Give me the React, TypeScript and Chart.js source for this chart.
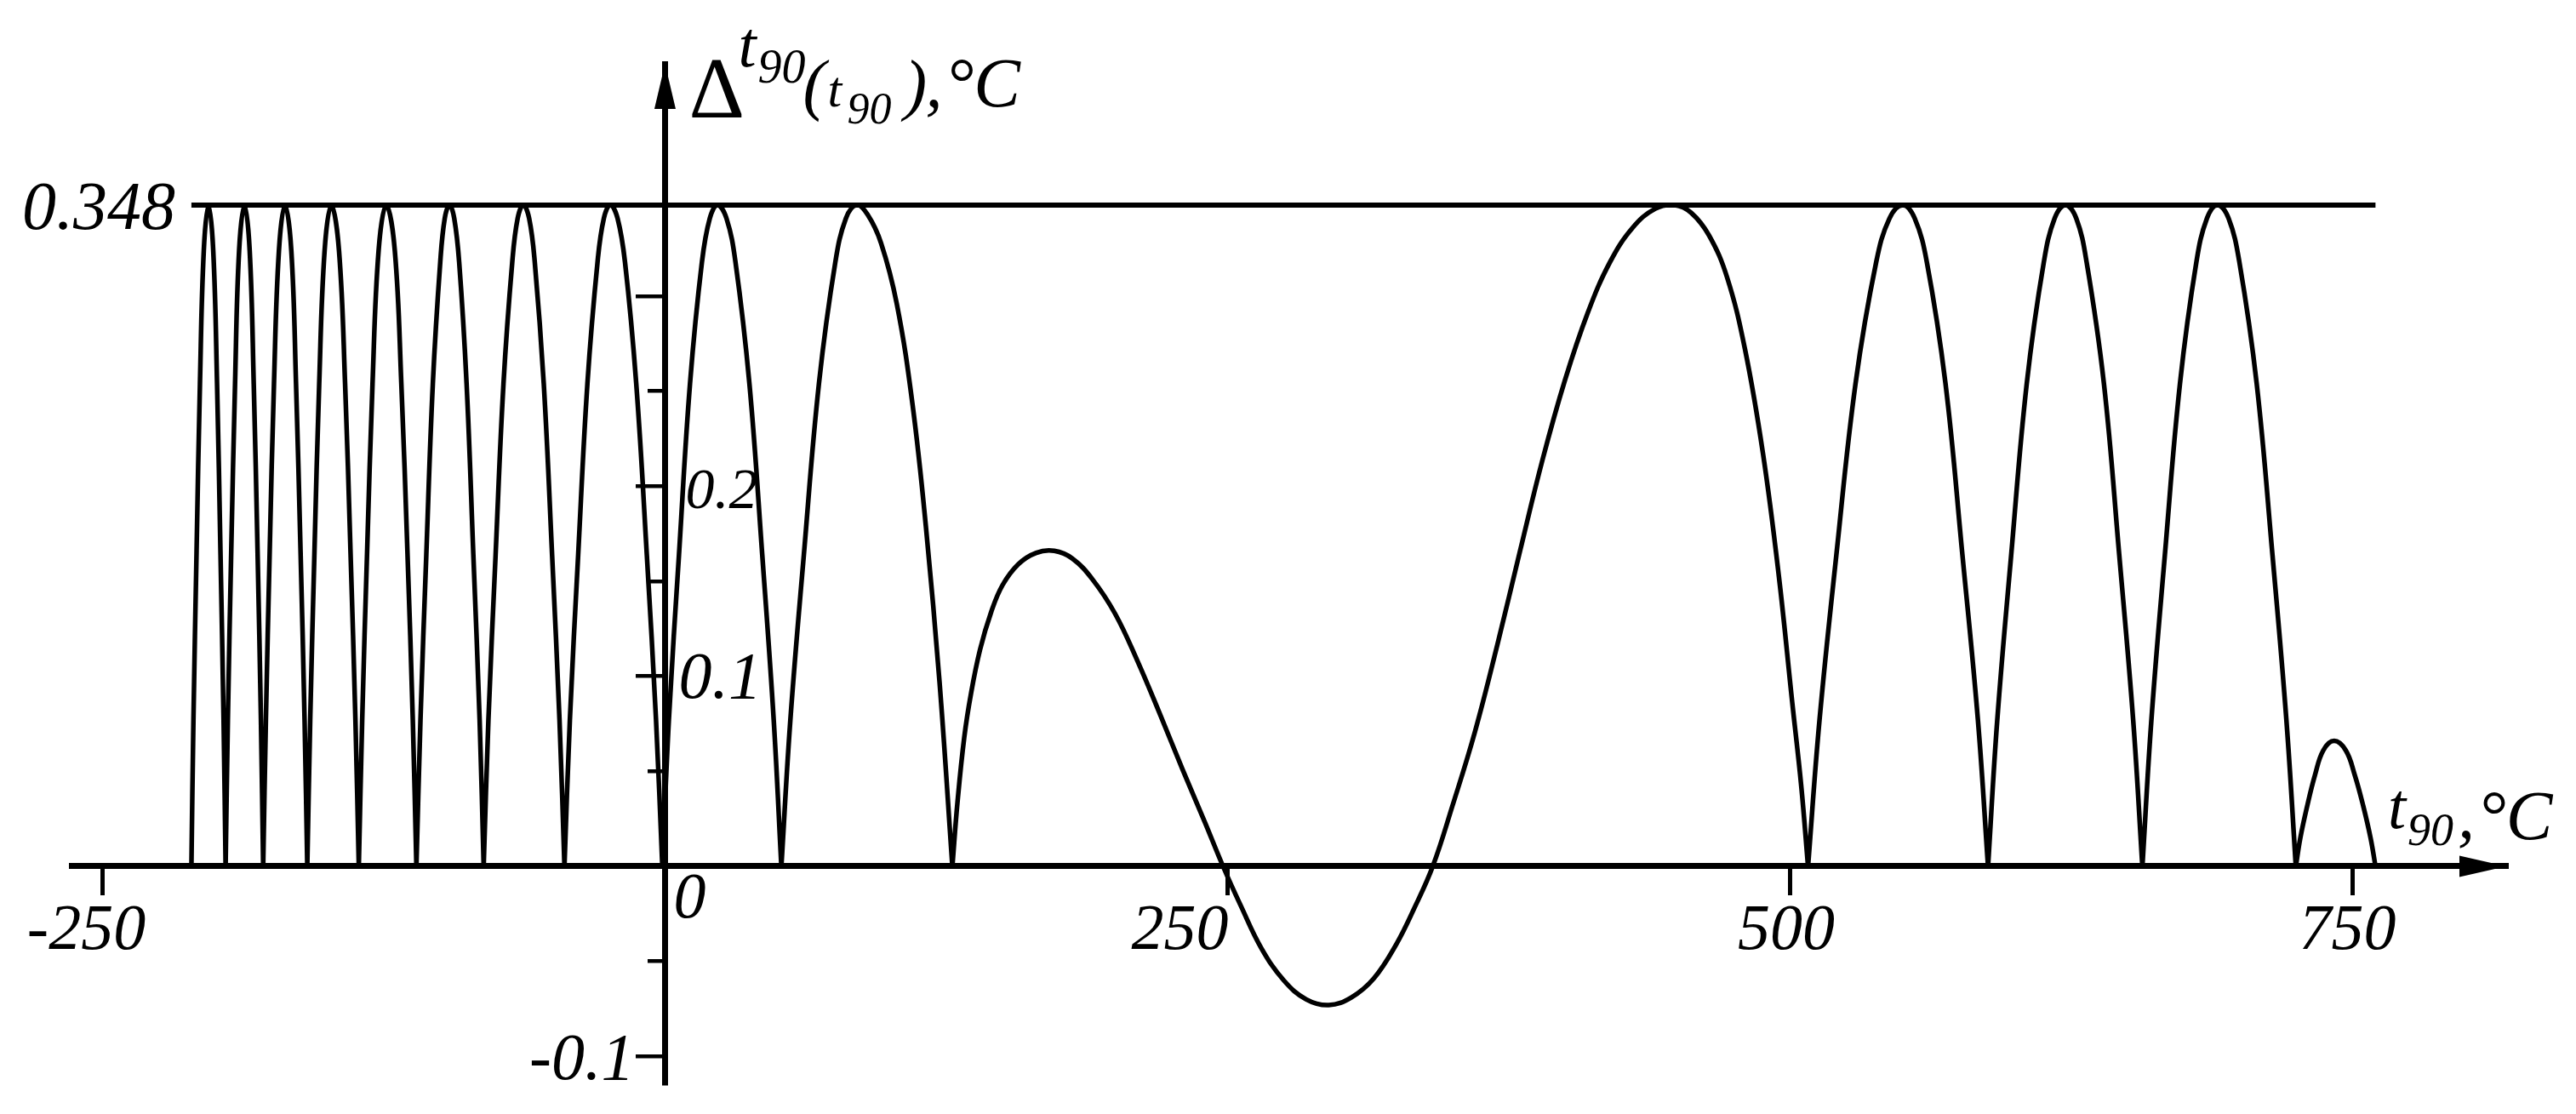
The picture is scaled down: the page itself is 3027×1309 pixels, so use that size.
import { useEffect, useRef } from 'react';
import { Chart, registerables } from 'chart.js';

Chart.register(...registerables);

// ---- data ----
// Temperatures t90 (°C) of the points of each arch of the deviation curve
const archT90: number[][] = [
  [-210.5, -209.6, -208.2, -206.7, -205.0, -202.9, -200.8, -199.1, -197.6, -196.2, -195.3],
  [-195.3, -194.3, -192.8, -191.1, -189.3, -186.9, -184.6, -182.8, -181.1, -179.6, -178.6],
  [-178.6, -177.4, -175.7, -173.8, -171.6, -168.9, -166.1, -164.0, -162.0, -160.2, -159.0],
  [-159.0, -157.7, -155.8, -153.7, -151.3, -148.3, -144.9, -142.2, -139.8, -137.6, -136.1],
  [-136.1, -134.6, -132.4, -130.0, -127.3, -123.9, -120.1, -117.2, -114.5, -112.1, -110.5],
  [-110.5, -108.7, -106.1, -103.2, -99.9, -97.9, -95.8, -93.7, -91.5, -88.2, -85.2, -82.4, -80.6],
  [-80.6, -78.5, -75.3, -71.8, -67.9, -65.5, -63.0, -60.4, -57.9, -53.9, -50.2, -46.9, -44.7],
  [-44.7, -42.3, -38.6, -34.5, -30.0, -27.2, -24.3, -21.1, -17.8, -12.8, -8.1, -4.0, -1.2],
  [-1.2, 1.7, 6.2, 11.1, 16.4, 19.9, 23.3, 27.3, 31.3, 37.5, 43.2, 48.3, 51.7],
  [51.7, 55.7, 61.7, 68.4, 75.7, 80.4, 85.1, 90.0, 96.0, 103.0, 110.0, 116.0, 122.0, 127.7],
  [127.7, 130.0, 133.0, 136.0, 140.0, 145.0, 150.0, 157.0, 165.0, 173.0, 181.0, 190.0, 200.0, 210.0,
    220.0, 230.0, 240.0, 248.0, 256.0, 265.0, 275.0, 285.0, 295.0, 305.0, 315.0, 325.0, 333.0, 341.2,
    350.0, 360.0, 370.0, 380.0, 390.0, 400.0, 410.0, 420.0, 430.0, 440.0, 448.8, 456.0, 464.0, 472.0,
    480.0, 488.0, 495.0, 501.0, 505.0, 508.0],
  [508.0, 513.1, 520.6, 529.1, 538.3, 544.2, 550.1, 555.4, 560.8, 569.1, 576.6, 583.5, 588.0],
  [588.0, 592.1, 598.3, 605.2, 612.8, 617.6, 622.4, 627.2, 631.8, 639.5, 646.3, 652.5, 656.6],
  [656.6, 660.6, 666.6, 673.3, 680.6, 685.3, 690.0, 694.9, 699.7, 707.4, 714.4, 720.6, 724.8],
  [724.8, 726.8, 729.9, 733.3, 737.0, 741.8, 747.0, 751.0, 754.7, 758.0, 760.2],
];

// Deviation Δ (°C) at those points
const archDelta: number[][] = [
  [0, 0.077, 0.166, 0.254, 0.324, 0.348, 0.324, 0.254, 0.166, 0.077, 0],
  [0, 0.077, 0.166, 0.254, 0.324, 0.348, 0.324, 0.254, 0.166, 0.077, 0],
  [0, 0.077, 0.166, 0.254, 0.324, 0.348, 0.324, 0.254, 0.166, 0.077, 0],
  [0, 0.077, 0.166, 0.254, 0.324, 0.348, 0.324, 0.254, 0.166, 0.077, 0],
  [0, 0.077, 0.166, 0.254, 0.324, 0.348, 0.324, 0.254, 0.166, 0.077, 0],
  [0, 0.077, 0.164, 0.254, 0.318, 0.341, 0.348, 0.341, 0.318, 0.254, 0.164, 0.077, 0],
  [0, 0.077, 0.164, 0.254, 0.318, 0.341, 0.348, 0.341, 0.318, 0.254, 0.164, 0.077, 0],
  [0, 0.077, 0.164, 0.254, 0.318, 0.341, 0.348, 0.341, 0.318, 0.254, 0.164, 0.077, 0],
  [0, 0.077, 0.164, 0.254, 0.318, 0.341, 0.348, 0.341, 0.318, 0.254, 0.164, 0.077, 0],
  [0, 0.077, 0.164, 0.254, 0.318, 0.341, 0.348, 0.343, 0.328, 0.296, 0.243, 0.178, 0.097, 0],
  [0, 0.034, 0.068, 0.091, 0.114, 0.134, 0.148, 0.159, 0.165, 0.166, 0.162, 0.151, 0.133, 0.108,
    0.080, 0.051, 0.023, 0, -0.021, -0.043, -0.060, -0.070, -0.073, -0.069, -0.059, -0.041, -0.022, 0,
    0.032, 0.071, 0.117, 0.166, 0.214, 0.256, 0.291, 0.318, 0.336, 0.346, 0.348, 0.344, 0.332, 0.310,
    0.272, 0.217, 0.153, 0.086, 0.042, 0],
  [0, 0.077, 0.164, 0.254, 0.318, 0.341, 0.348, 0.341, 0.318, 0.254, 0.164, 0.077, 0],
  [0, 0.077, 0.164, 0.254, 0.318, 0.341, 0.348, 0.341, 0.318, 0.254, 0.164, 0.077, 0],
  [0, 0.077, 0.164, 0.254, 0.318, 0.341, 0.348, 0.341, 0.318, 0.254, 0.164, 0.077, 0],
  [0, 0.015, 0.032, 0.048, 0.061, 0.066, 0.061, 0.048, 0.032, 0.015, 0],
];

// Upper limit line
const limitT90 = [-210.5, 760.2];
const limitDelta = [0.348, 0.348];

// Axes
const xRange = [-263.8, 818.3];
const yRange = [-0.1142, 0.4223];
const xTickValues = [-250, 250, 500, 750];
const xTickLabels = ['-250', '250', '500', '750'];
const yMajorTicks = [-0.1, 0.1, 0.2, 0.3];
const yMinorTicks = [-0.05, 0.05, 0.15, 0.25];
const yLabelValues = [0.348, 0.2, 0.1, -0.1];
const yLabelTexts = ['0.348', '0.2', '0.1', '-0.1'];

// ---- build the library's data from the arrays ----
const curveData: { x: number; y: number | null }[] = [];
archT90.forEach((temps, i) => {
  if (i > 0) curveData.push({ x: temps[0], y: null }); // break -> cusp between arches
  temps.forEach((t, j) => curveData.push({ x: t, y: archDelta[i][j] }));
});
const limitData = limitT90.map((t, i) => ({ x: t, y: limitDelta[i] }));

const SERIF = '"Liberation Serif", "Times New Roman", serif';

function drawInk(
  ctx: CanvasRenderingContext2D,
  text: string,
  font: string,
  pos: { left?: number; right?: number; center?: number },
  baseline: number
) {
  ctx.font = font;
  ctx.textAlign = 'left';
  ctx.textBaseline = 'alphabetic';
  const m = ctx.measureText(text);
  const inkL = -m.actualBoundingBoxLeft;
  const inkR = m.actualBoundingBoxRight;
  let x: number;
  if (pos.left !== undefined) x = pos.left - inkL;
  else if (pos.right !== undefined) x = pos.right - inkR;
  else x = (pos.center as number) - (inkL + inkR) / 2;
  ctx.fillText(text, x, baseline);
}

const decorPlugin = {
  id: 'decor',
  beforeDraw(chart: any) {
    const ctx = chart.ctx as CanvasRenderingContext2D;
    ctx.save();
    ctx.fillStyle = '#fff';
    ctx.fillRect(0, 0, chart.width, chart.height);
    ctx.restore();
  },
  afterDraw(chart: any) {
    const ctx = chart.ctx as CanvasRenderingContext2D;
    const xs = chart.scales.x;
    const ys = chart.scales.y;
    const area = chart.chartArea;
    const axisX = xs.getPixelForValue(0);
    const axisY = ys.getPixelForValue(0);
    ctx.save();
    ctx.fillStyle = '#000';

    // arrow heads
    ctx.beginPath();
    ctx.moveTo(axisX, area.top);
    ctx.lineTo(axisX - 12.5, area.top + 53);
    ctx.lineTo(axisX + 12.5, area.top + 53);
    ctx.closePath();
    ctx.fill();
    ctx.beginPath();
    ctx.moveTo(area.right, axisY);
    ctx.lineTo(area.right - 55, axisY - 12.5);
    ctx.lineTo(area.right - 55, axisY + 12.5);
    ctx.closePath();
    ctx.fill();

    // x tick labels
    const xFont = `italic 76px ${SERIF}`;
    xTickValues.forEach((v, i) => {
      const px = xs.getPixelForValue(v);
      const base = axisY + 97;
      if (v === -250) drawInk(ctx, xTickLabels[i], xFont, { center: px - 18 }, base);
      else if (v === 250) drawInk(ctx, xTickLabels[i], xFont, { right: px + 1 }, base);
      else drawInk(ctx, xTickLabels[i], xFont, { center: px - 4 }, base);
    });
    drawInk(ctx, '0', xFont, { left: axisX + 12 }, axisY + 60);

    // y tick labels
    yLabelValues.forEach((v, i) => {
      const py = ys.getPixelForValue(v);
      const txt = yLabelTexts[i];
      if (v === 0.348) {
        const lx = xs.getPixelForValue(limitT90[0]);
        drawInk(ctx, txt, `italic 80px ${SERIF}`, { right: lx - 19 }, py + 28);
      } else if (v === 0.2) {
        drawInk(ctx, txt, `italic 68px ${SERIF}`, { left: axisX + 26 }, py + 26);
      } else if (v > 0) {
        drawInk(ctx, txt, `italic 78px ${SERIF}`, { left: axisX + 19 }, py + 25);
      } else {
        drawInk(ctx, txt, `italic 78px ${SERIF}`, { right: axisX - 44 }, py + 27);
      }
    });

    // y axis title: Δ^{t90}(t90), °C
    const top = area.top;
    drawInk(ctx, 'Δ', `102px ${SERIF}`, { left: axisX + 31 }, top + 63);
    drawInk(ctx, 't', `italic 76px ${SERIF}`, { left: axisX + 89 }, top + 3);
    drawInk(ctx, '90', `italic 56px ${SERIF}`, { left: axisX + 110 }, top + 22);
    drawInk(ctx, '(', `italic 80px ${SERIF}`, { left: axisX + 164 }, top + 51);
    drawInk(ctx, 't', `italic 60px ${SERIF}`, { left: axisX + 193 }, top + 50);
    drawInk(ctx, '90', `italic 52px ${SERIF}`, { left: axisX + 215 }, top + 70);
    drawInk(ctx, ')', `italic 80px ${SERIF}`, { left: axisX + 277 }, top + 51);
    drawInk(ctx, ',', `italic 80px ${SERIF}`, { left: axisX + 308 }, top + 50);
    drawInk(ctx, '°C', `italic 82px ${SERIF}`, { left: axisX + 336 }, top + 50);

    // x axis title: t90, °C
    const right = area.right;
    drawInk(ctx, 't', `italic 76px ${SERIF}`, { left: right - 136 }, axisY - 45);
    drawInk(ctx, '90', `italic 54px ${SERIF}`, { left: right - 115 }, axisY - 25);
    drawInk(ctx, ',', `italic 80px ${SERIF}`, { left: right - 55 }, axisY - 34);
    drawInk(ctx, '°C', `italic 82px ${SERIF}`, { left: right - 27 }, axisY - 32);

    ctx.restore();
  },
};

export default function App() {
  const ref = useRef<HTMLCanvasElement>(null);
  useEffect(() => {
    document.body.style.margin = '0';
    document.body.style.overflow = 'hidden';
    const canvas = ref.current;
    if (!canvas) return;
    const chart = new Chart(canvas, {
      type: 'line',
      data: {
        datasets: [
          {
            data: curveData as any,
            borderColor: '#000',
            borderWidth: 5.5,
            pointRadius: 0,
            fill: false,
            spanGaps: false,
            tension: 0.4,
            borderCapStyle: 'round',
            borderJoinStyle: 'round',
          },
          {
            data: limitData as any,
            borderColor: '#000',
            borderWidth: 6,
            pointRadius: 0,
            fill: false,
          },
        ],
      },
      options: {
        responsive: false,
        animation: false,
        devicePixelRatio: 1,
        events: [],
        layout: { padding: { left: 84, right: 82, top: 75, bottom: 36 } },
        plugins: {
          legend: { display: false },
          tooltip: { enabled: false },
          title: { display: false },
        },
        scales: {
          x: {
            type: 'linear',
            min: xRange[0],
            max: xRange[1],
            position: { y: 0 } as any,
            afterBuildTicks: (s: any) => {
              s.ticks = xTickValues.map((value) => ({ value }));
            },
            ticks: { display: false },
            grid: { drawOnChartArea: false, drawTicks: true, tickLength: 31, lineWidth: 5, color: '#000' },
            border: { display: true, color: '#000', width: 7 },
          },
          y: {
            type: 'linear',
            min: yRange[0],
            max: yRange[1],
            position: { x: 0 } as any,
            afterBuildTicks: (s: any) => {
              s.ticks = yMajorTicks.map((value) => ({ value }));
            },
            ticks: { display: false },
            grid: { drawOnChartArea: false, drawTicks: true, tickLength: 31, lineWidth: 4.5, color: '#000' },
            border: { display: true, color: '#000', width: 7 },
          },
          yMinor: {
            axis: 'y',
            type: 'linear',
            min: yRange[0],
            max: yRange[1],
            position: { x: 0 } as any,
            afterBuildTicks: (s: any) => {
              s.ticks = yMinorTicks.map((value) => ({ value }));
            },
            ticks: { display: false },
            grid: { drawOnChartArea: false, drawTicks: true, tickLength: 20, lineWidth: 4.5, color: '#000' },
            border: { display: false },
          },
        } as any,
      },
      plugins: [decorPlugin],
    });
    return () => chart.destroy();
  }, []);

  return (
    <div style={{ width: 3027, height: 1309, background: '#fff' }}>
      <canvas ref={ref} width={3027} height={1309} style={{ display: 'block', width: 3027, height: 1309 }} />
    </div>
  );
}
